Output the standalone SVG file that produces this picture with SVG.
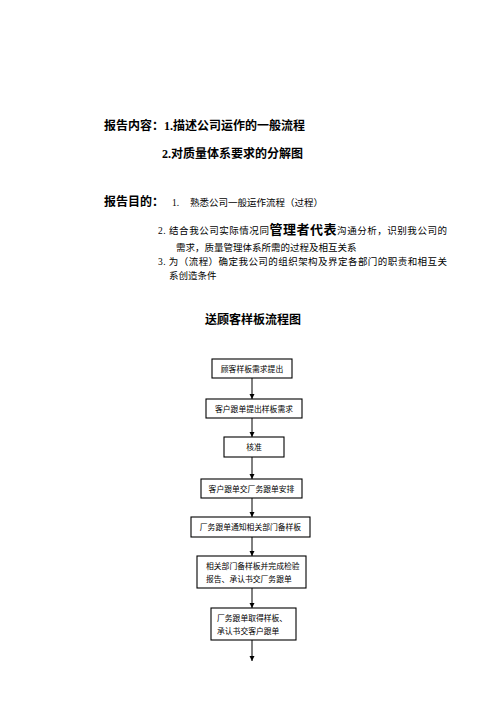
<svg xmlns="http://www.w3.org/2000/svg" width="496" height="702" viewBox="0 0 496 702">
<defs>
<style>
.h{font-family:"Liberation Serif","Noto Sans CJK SC",serif;font-weight:bold;font-size:12px;fill:#000}
.t{font-family:"Liberation Serif","Noto Sans CJK SC",serif;font-size:9.5px;fill:#000}
.b{font-family:"Liberation Serif","Noto Sans CJK SC",serif;font-size:7.8px;fill:#000}
.box{fill:#fff;stroke:#000;stroke-width:1.1}
.ln{stroke:#000;stroke-width:1;fill:none}
</style>
<marker id="ah" viewBox="0 0 10 10" refX="10" refY="5" markerWidth="5" markerHeight="6" markerUnits="userSpaceOnUse" orient="auto">
<path d="M0,0L10,5L0,10z" fill="#000"/>
</marker>
</defs>
<rect width="496" height="702" fill="#fff"/>
<g id="header">
<text class="h" x="104" y="130" font-size="11.7">报告内容：1.描述公司运作的一般流程</text>
<text class="h" x="162" y="158">2.对质量体系要求的分解图</text>
<text class="h" x="104" y="206" font-size="12.5">报告目的：</text>
<text class="t" x="172" y="206">1.</text>
<text class="t" x="190" y="206">熟悉公司一般运作流程（过程）</text>
<text class="t" x="158" y="234" textLength="289" lengthAdjust="spacing">2. 结合我公司实际情况同<tspan font-weight="bold" font-size="13">管理者代表</tspan>沟通分析，识别我公司的</text>
<text class="t" x="176" y="251">需求，质量管理体系所需的过程及相互关系</text>
<text class="t" x="158" y="265" textLength="289" lengthAdjust="spacing">3. 为（流程）确定我公司的组织架构及界定各部门的职责和相互关</text>
<text class="t" x="169" y="279">系创造条件</text>
<text class="h" x="205" y="324">送顾客样板流程图</text>
</g>
<g id="connectors">
<line class="ln" x1="252" y1="378" x2="252" y2="399" marker-end="url(#ah)"/>
<line class="ln" x1="252" y1="418" x2="252" y2="437" marker-end="url(#ah)"/>
<line class="ln" x1="252" y1="457" x2="252" y2="479" marker-end="url(#ah)"/>
<line class="ln" x1="252" y1="498" x2="252" y2="517" marker-end="url(#ah)"/>
<line class="ln" x1="252" y1="537" x2="252" y2="556" marker-end="url(#ah)"/>
<line class="ln" x1="252" y1="588" x2="252" y2="608" marker-end="url(#ah)"/>
<line class="ln" x1="252" y1="640" x2="252" y2="661" marker-end="url(#ah)"/>
</g>
<g id="n1"><rect class="box" x="212" y="359" width="80" height="19"/><text class="b" x="252" y="371.5" text-anchor="middle">顾客样板需求提出</text></g>
<g id="n2"><rect class="box" x="206" y="399" width="96" height="19"/><text class="b" x="254" y="411.5" text-anchor="middle">客户跟单提出样板需求</text></g>
<g id="n3"><rect class="box" x="224" y="437" width="60" height="20"/><text class="b" x="254" y="450" text-anchor="middle">核准</text></g>
<g id="n4"><rect class="box" x="201" y="479" width="101" height="19"/><text class="b" x="251.5" y="491.5" text-anchor="middle">客户跟单交厂务跟单安排</text></g>
<g id="n5"><rect class="box" x="191" y="517" width="119" height="20"/><text class="b" x="250.5" y="530" text-anchor="middle">厂务跟单通知相关部门备样板</text></g>
<g id="n6"><rect class="box" x="197" y="556" width="109" height="32"/><text class="b" x="206" y="569">相关部门备样板并完成检验</text><text class="b" x="206" y="582">报告、承认书交厂务跟单</text></g>
<g id="n7"><rect class="box" x="211" y="608" width="85" height="32"/><text class="b" x="217" y="621">厂务跟单取得样板、</text><text class="b" x="217" y="634">承认书交客户跟单</text></g>
</svg>
